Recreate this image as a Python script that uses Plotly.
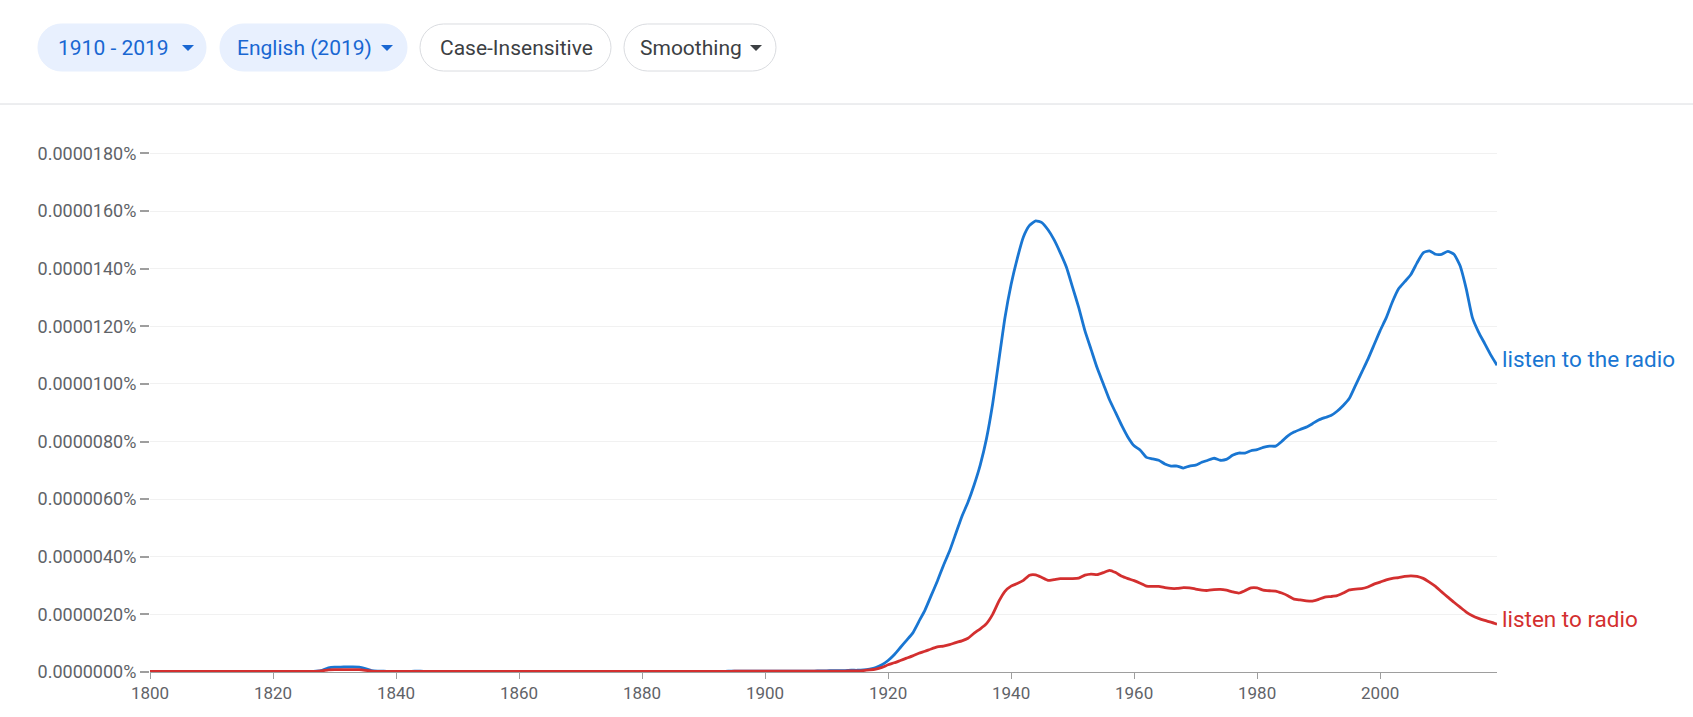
import plotly.graph_objects as go

# ---------------- data ----------------
years = list(range(1800, 2020))

# values expressed so that 2.0 == 0.0000020%
listen_to_the_radio = [
    0.02, 0.02, 0.02, 0.02, 0.02, 0.02, 0.02, 0.02, 0.02, 0.02,  # 1800
    0.02, 0.02, 0.02, 0.02, 0.02, 0.02, 0.02, 0.02, 0.02, 0.02,  # 1810
    0.02, 0.02, 0.02, 0.02, 0.02, 0.02, 0.02, 0.03, 0.06, 0.14,  # 1820
    0.17, 0.17, 0.18, 0.18, 0.17, 0.12, 0.05, 0.03, 0.03, 0.02,  # 1830
    0.02, 0.02, 0.02, 0.03, 0.03, 0.02, 0.02, 0.02, 0.02, 0.02,  # 1840
    0.02, 0.02, 0.02, 0.02, 0.02, 0.02, 0.02, 0.02, 0.02, 0.02,  # 1850
    0.02, 0.02, 0.02, 0.02, 0.02, 0.02, 0.02, 0.02, 0.02, 0.02,  # 1860
    0.02, 0.02, 0.02, 0.02, 0.02, 0.02, 0.02, 0.02, 0.02, 0.02,  # 1870
    0.02, 0.02, 0.02, 0.02, 0.02, 0.02, 0.02, 0.02, 0.02, 0.02,  # 1880
    0.02, 0.02, 0.02, 0.02, 0.03, 0.03, 0.03, 0.03, 0.03, 0.03,  # 1890
    0.03, 0.03, 0.03, 0.03, 0.03, 0.03, 0.03, 0.03, 0.03, 0.04,  # 1900
    0.04, 0.05, 0.05, 0.05, 0.06, 0.06, 0.07, 0.10, 0.15, 0.25,  # 1910
    0.40, 0.60, 0.85, 1.10, 1.35, 1.75, 2.15, 2.65, 3.15, 3.70,  # 1920
    4.20, 4.80, 5.40, 5.90, 6.50, 7.20, 8.10, 9.30, 10.80, 12.30,  # 1930
    13.45, 14.35, 15.10, 15.50, 15.66, 15.60, 15.35, 15.00, 14.55, 14.05,  # 1940
    13.35, 12.65, 11.85, 11.20, 10.55, 10.00, 9.45, 9.00, 8.55, 8.15,  # 1950
    7.85, 7.70, 7.45, 7.40, 7.35, 7.22, 7.15, 7.15, 7.08, 7.15,  # 1960
    7.18, 7.28, 7.35, 7.42, 7.35, 7.38, 7.52, 7.60, 7.60, 7.68,  # 1970
    7.72, 7.80, 7.84, 7.84, 8.00, 8.20, 8.33, 8.42, 8.50, 8.62,  # 1980
    8.75, 8.83, 8.90, 9.05, 9.25, 9.50, 9.95, 10.40, 10.85, 11.35,  # 1990
    11.85, 12.30, 12.85, 13.30, 13.55, 13.80, 14.20, 14.55, 14.62, 14.50,  # 2000
    14.50, 14.60, 14.50, 14.10, 13.30, 12.30, 11.80, 11.40, 11.00, 10.65,  # 2010
]

listen_to_radio = [
    0.02, 0.02, 0.02, 0.02, 0.02, 0.02, 0.02, 0.02, 0.02, 0.02,  # 1800
    0.02, 0.02, 0.02, 0.02, 0.02, 0.02, 0.02, 0.02, 0.02, 0.02,  # 1810
    0.02, 0.02, 0.02, 0.02, 0.02, 0.02, 0.02, 0.02, 0.04, 0.07,  # 1820
    0.08, 0.08, 0.08, 0.08, 0.08, 0.06, 0.03, 0.02, 0.02, 0.02,  # 1830
    0.02, 0.02, 0.02, 0.02, 0.02, 0.02, 0.02, 0.02, 0.02, 0.02,  # 1840
    0.02, 0.02, 0.02, 0.02, 0.02, 0.02, 0.02, 0.02, 0.02, 0.02,  # 1850
    0.02, 0.02, 0.02, 0.02, 0.02, 0.02, 0.02, 0.02, 0.02, 0.02,  # 1860
    0.02, 0.02, 0.02, 0.02, 0.02, 0.02, 0.02, 0.02, 0.02, 0.02,  # 1870
    0.02, 0.02, 0.02, 0.02, 0.02, 0.02, 0.02, 0.02, 0.02, 0.02,  # 1880
    0.02, 0.02, 0.02, 0.02, 0.02, 0.03, 0.03, 0.03, 0.03, 0.03,  # 1890
    0.03, 0.03, 0.03, 0.03, 0.03, 0.03, 0.03, 0.03, 0.03, 0.03,  # 1900
    0.03, 0.03, 0.03, 0.03, 0.04, 0.04, 0.05, 0.07, 0.10, 0.16,  # 1910
    0.25, 0.32, 0.40, 0.48, 0.56, 0.65, 0.72, 0.80, 0.87, 0.90,  # 1920
    0.95, 1.02, 1.08, 1.17, 1.35, 1.50, 1.68, 2.00, 2.45, 2.80,  # 1930
    2.98, 3.07, 3.18, 3.36, 3.37, 3.28, 3.18, 3.21, 3.24, 3.24,  # 1940
    3.24, 3.26, 3.36, 3.40, 3.38, 3.45, 3.53, 3.45, 3.32, 3.24,  # 1950
    3.17, 3.08, 2.98, 2.97, 2.97, 2.93, 2.90, 2.90, 2.93, 2.92,  # 1960
    2.88, 2.84, 2.83, 2.86, 2.87, 2.84, 2.78, 2.74, 2.82, 2.92,  # 1970
    2.92, 2.84, 2.82, 2.81, 2.74, 2.65, 2.53, 2.50, 2.47, 2.46,  # 1980
    2.52, 2.60, 2.62, 2.65, 2.74, 2.85, 2.88, 2.89, 2.95, 3.05,  # 1990
    3.12, 3.20, 3.25, 3.28, 3.32, 3.34, 3.32, 3.25, 3.12, 2.97,  # 2000
    2.78, 2.60, 2.42, 2.25, 2.08, 1.95, 1.86, 1.79, 1.73, 1.66,  # 2010
]

series_names = ["listen to the radio", "listen to radio"]

x_tick_vals = [1800, 1820, 1840, 1860, 1880, 1900, 1920, 1940, 1960, 1980, 2000]
x_tick_text = ["1800", "1820", "1840", "1860", "1880", "1900", "1920", "1940", "1960", "1980", "2000"]

y_tick_vals = [0, 2, 4, 6, 8, 10, 12, 14, 16, 18]
y_tick_text = ["0.0000000%", "0.0000020%", "0.0000040%", "0.0000060%", "0.0000080%",
               "0.0000100%", "0.0000120%", "0.0000140%", "0.0000160%", "0.0000180%"]

pill_labels = ["1910 - 2019", "English (2019)", "Case-Insensitive", "Smoothing"]

# ---------------- styling / layout ----------------
W, H = 1693, 717
PLOT_L, PLOT_R, PLOT_T, PLOT_B = 150, 1497, 152, 672
BLUE = "#1976d2"
RED = "#d32f2f"
FONT = "Roboto, Arial, sans-serif"
TICK_COLOR = "#5f6368"


def pxp(X):
    return (X - PLOT_L) / (PLOT_R - PLOT_L)


def pyp(Y):
    return (PLOT_B - Y) / (PLOT_B - PLOT_T)


def pt(X, Y):
    return f"{pxp(X):.6f},{pyp(Y):.6f}"


def pill_path(x0, y0, x1, y1):
    r = (y1 - y0) / 2.0
    k = 0.5523 * r
    return (
        f"M {pt(x0 + r, y0)} L {pt(x1 - r, y0)} "
        f"C {pt(x1 - r + k, y0)} {pt(x1, y0 + r - k)} {pt(x1, y0 + r)} "
        f"C {pt(x1, y0 + r + k)} {pt(x1 - r + k, y1)} {pt(x1 - r, y1)} "
        f"L {pt(x0 + r, y1)} "
        f"C {pt(x0 + r - k, y1)} {pt(x0, y0 + r + k)} {pt(x0, y0 + r)} "
        f"C {pt(x0, y0 + r - k)} {pt(x0 + r - k, y0)} {pt(x0 + r, y0)} Z"
    )


def tri_path(xc, yc, w=12, h=6):
    return f"M {pt(xc - w / 2, yc - h / 2)} L {pt(xc + w / 2, yc - h / 2)} L {pt(xc, yc + h / 2)} Z"


fig = go.Figure()
for vals, name, color in [(listen_to_the_radio, series_names[0], BLUE),
                          (listen_to_radio, series_names[1], RED)]:
    fig.add_trace(go.Scatter(
        x=years, y=vals, name=name, mode="lines",
        line=dict(color=color, width=2.8, shape="spline", smoothing=0.5),
        hoverinfo="skip",
    ))

shapes = []
annotations = []

# divider line under the toolbar
shapes.append(dict(type="line", xref="paper", yref="paper",
                   x0=pxp(0), x1=pxp(W), y0=pyp(104), y1=pyp(104),
                   line=dict(color="#dadce0", width=1)))

# pills
pill_boxes = [(38, 206), (220, 407), (420, 611), (624, 776)]
pill_active = [True, True, False, False]
pill_text_x = [113, 304, 516, 691]
pill_arrow_x = [188, 387, None, 756]
PY0, PY1 = 24, 71
for (x0, x1), active, label, tx, ax in zip(pill_boxes, pill_active, pill_labels, pill_text_x, pill_arrow_x):
    shapes.append(dict(
        type="path", xref="paper", yref="paper", path=pill_path(x0, PY0, x1, PY1),
        fillcolor="#e8f0fe" if active else "#ffffff",
        line=dict(color="#e8f0fe" if active else "#dadce0", width=1),
    ))
    txt_color = "#1967d2" if active else "#3c4043"
    annotations.append(dict(
        xref="paper", yref="paper", x=pxp(tx), y=pyp((PY0 + PY1) / 2),
        text=label, showarrow=False, xanchor="center", yanchor="middle",
        font=dict(family=FONT, size=21, color=txt_color),
    ))
    if ax is not None:
        shapes.append(dict(type="path", xref="paper", yref="paper",
                           path=tri_path(ax, 48), fillcolor=txt_color,
                           line=dict(width=0)))

# series labels at line ends
for vals, name, color, ys in [(listen_to_the_radio, series_names[0], BLUE, 6),
                              (listen_to_radio, series_names[1], RED, 5)]:
    annotations.append(dict(
        x=years[-1], y=vals[-1], xref="x", yref="y", text=name,
        showarrow=False, xanchor="left", yanchor="middle", xshift=3, yshift=ys,
        font=dict(family=FONT, size=22.5, color=color),
    ))

fig.update_layout(
    width=W, height=H,
    margin=dict(l=PLOT_L, r=W - PLOT_R, t=PLOT_T, b=H - PLOT_B, pad=0),
    paper_bgcolor="#ffffff", plot_bgcolor="#ffffff",
    showlegend=False,
    font=dict(family=FONT, color=TICK_COLOR),
    shapes=shapes, annotations=annotations,
    xaxis=dict(
        range=[1800, 2019], tickmode="array", tickvals=x_tick_vals, ticktext=x_tick_text,
        showgrid=False, zeroline=False, showline=True, linecolor="#9e9e9e", linewidth=1,
        ticks="outside", ticklen=6, tickcolor="#9e9e9e", tickwidth=1,
        tickfont=dict(family=FONT, size=17, color=TICK_COLOR),
    ),
    yaxis=dict(
        range=[0, 18.05], tickmode="array", tickvals=y_tick_vals, ticktext=y_tick_text,
        showgrid=True, gridcolor="#f1f1f1", gridwidth=1, zeroline=False, showline=False,
        ticks="outside", ticklen=9, tickcolor="#9e9e9e", tickwidth=1.5,
        tickfont=dict(family=FONT, size=18, color=TICK_COLOR),
    ),
)

fig.write_html(
    "out.html",
    config={"displayModeBar": False},
    post_script="document.body.style.margin='0';document.body.style.overflow='hidden';",
)
